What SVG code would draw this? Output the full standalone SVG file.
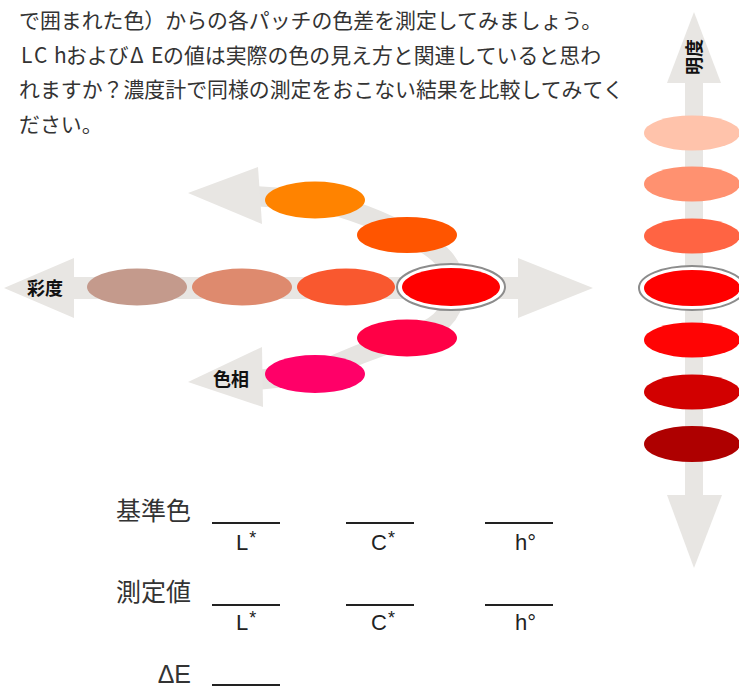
<svg xmlns="http://www.w3.org/2000/svg" width="739" height="687" viewBox="0 0 739 687">
<style>
.para{font-family:"Noto Sans CJK JP","Noto Sans",sans-serif;font-size:20.9px;fill:#333}
.axis{font-family:"Noto Sans CJK JP","Noto Sans",sans-serif;font-size:18px;font-weight:bold;fill:#111}
.lab{font-family:"Noto Sans CJK JP","Liberation Sans",sans-serif;font-size:25px;fill:#333}
.sub{font-family:"Liberation Sans",Arial,sans-serif;font-size:22px;fill:#222}
.st{font-size:18px}
.arr{fill:#e8e6e3}
.band{fill:none;stroke:#e6e4e1;stroke-width:20}
.ring{fill:#fff;stroke:#8c8c8c;stroke-width:2}
.blank{stroke:#222;stroke-width:2}
</style>
<rect width="739" height="687" fill="#fff"/>
<g id="paragraph" class="para">
<text x="19" y="27.5">で囲まれた色）からの各パッチの色差を測定してみましょう。</text>
<text y="62.5"><tspan x="21">L</tspan><tspan x="34">C</tspan><tspan x="54">h</tspan><tspan x="66">および</tspan><tspan x="130">Δ</tspan><tspan x="151">E</tspan><tspan x="163">の値は実際の色の見え方と関連していると思わ</tspan></text>
<text x="19" y="97">れますか？濃度計で同様の測定をおこない結果を比較してみてく</text>
<text x="19" y="131.5">ださい。</text>
</g>
<g id="connectors">
<rect class="arr" x="70" y="277" width="452" height="22"/>
<polygon class="arr" points="4,288 74,258 74,318"/>
<polygon class="arr" points="593,288 518,258 518,318"/>
<path class="band" d="M252,196 L315,200 Q370,214 407,235 Q452,252 455,285"/>
<polygon class="arr" points="188,193 258,167 262,224"/>
<path class="band" d="M455,292 Q452,326 407,338 Q360,352 315,374 L256,380"/>
<polygon class="arr" points="188,382 262,347 263,407"/>
<rect class="arr" x="685" y="80" width="18" height="418"/>
<polygon class="arr" points="694,12 667,83 721,83"/>
<polygon class="arr" points="694,568 667,495 722,495"/>
</g>
<g id="chroma">
<ellipse id="c1" cx="137" cy="287" rx="50" ry="18.5" fill="#c49a8c"/>
<ellipse id="c2" cx="242" cy="287" rx="50" ry="18.5" fill="#de8a6e"/>
<ellipse id="c3" cx="346" cy="287" rx="49" ry="18.5" fill="#f9582f"/>
<g id="ref-left"><ellipse class="ring" cx="451" cy="287" rx="54" ry="23"/><ellipse cx="451" cy="287" rx="49" ry="19" fill="#ff0000"/></g>
</g>
<g id="hue">
<ellipse id="h1" cx="315" cy="200" rx="50" ry="18.5" fill="#ff8300"/>
<ellipse id="h2" cx="407" cy="235" rx="50" ry="18" fill="#ff5500"/>
<ellipse id="h3" cx="407" cy="338" rx="50" ry="18.5" fill="#ff0046"/>
<ellipse id="h4" cx="315" cy="374" rx="50" ry="19" fill="#ff0068"/>
</g>
<g id="lightness">
<ellipse id="l1" cx="692" cy="133" rx="48" ry="17.5" fill="#ffc3ab"/>
<ellipse id="l2" cx="692" cy="184" rx="48" ry="17.5" fill="#ff9170"/>
<ellipse id="l3" cx="692" cy="236" rx="48" ry="17.5" fill="#ff6443"/>
<g id="ref-right"><ellipse class="ring" cx="692" cy="288" rx="53" ry="22"/><ellipse cx="692" cy="288" rx="48" ry="18" fill="#ff0000"/></g>
<ellipse id="l5" cx="692" cy="340" rx="48" ry="17.5" fill="#ff0404"/>
<ellipse id="l6" cx="692" cy="392" rx="48" ry="17.5" fill="#d20000"/>
<ellipse id="l7" cx="692" cy="444" rx="48" ry="18" fill="#ae0000"/>
</g>
<g id="axis-labels" class="axis">
<text x="27" y="295">彩度</text>
<text x="213" y="386">色相</text>
<text transform="translate(701,57) rotate(-90)" text-anchor="middle">明度</text>
</g>
<g id="form">
<text class="lab" x="191" y="520" text-anchor="end">基準色</text>
<text class="lab" x="191" y="601" text-anchor="end">測定値</text>
<text class="lab" x="191" y="683" text-anchor="end" style="font-family:'Liberation Sans',Arial,sans-serif">ΔE</text>
<line class="blank" x1="212" y1="523" x2="280" y2="523"/>
<line class="blank" x1="346" y1="523" x2="414" y2="523"/>
<line class="blank" x1="485" y1="523" x2="553" y2="523"/>
<line class="blank" x1="212" y1="605" x2="280" y2="605"/>
<line class="blank" x1="346" y1="605" x2="414" y2="605"/>
<line class="blank" x1="485" y1="605" x2="553" y2="605"/>
<line class="blank" x1="212" y1="685" x2="280" y2="685"/>
<text class="sub" x="236" y="550">L<tspan class="st" dx="1" dy="-6">*</tspan></text>
<text class="sub" x="371" y="550">C<tspan class="st" dx="1" dy="-6">*</tspan></text>
<text class="sub" x="515" y="550">h°</text>
<text class="sub" x="236" y="630">L<tspan class="st" dx="1" dy="-6">*</tspan></text>
<text class="sub" x="371" y="630">C<tspan class="st" dx="1" dy="-6">*</tspan></text>
<text class="sub" x="515" y="630">h°</text>
</g>
</svg>
